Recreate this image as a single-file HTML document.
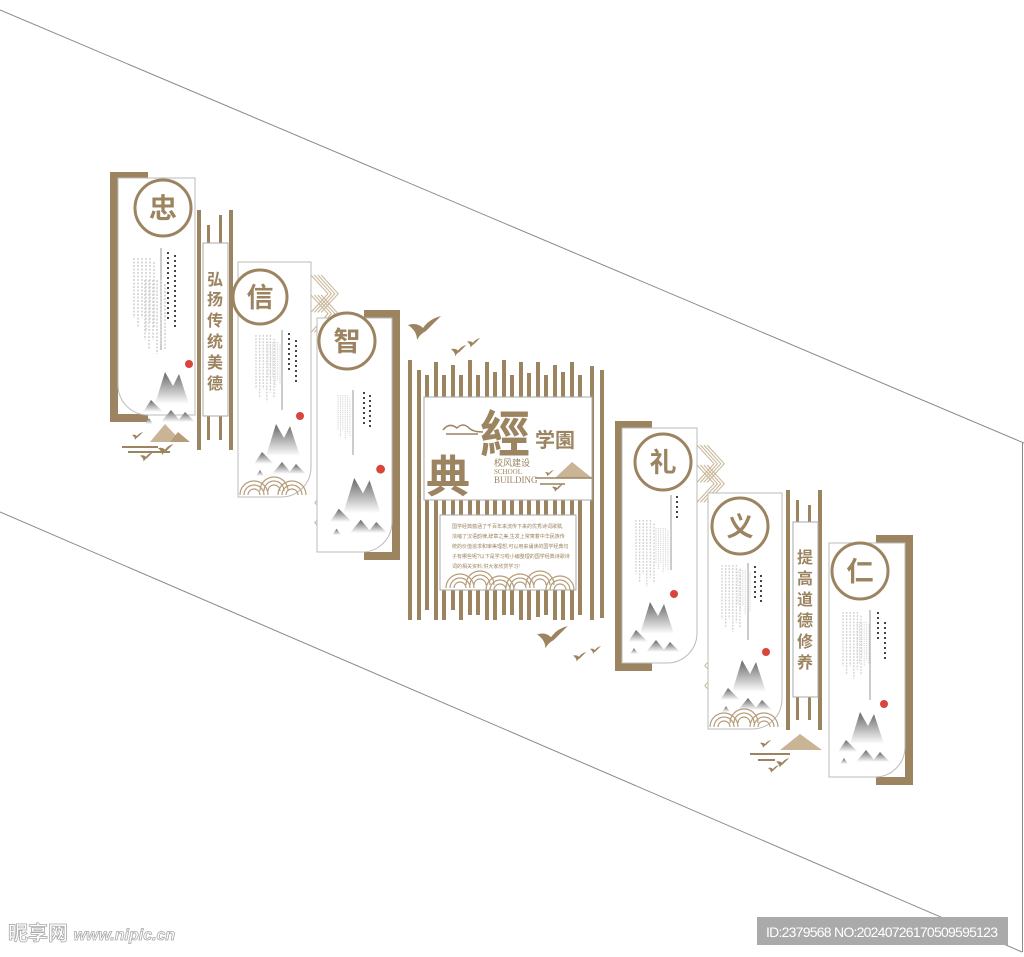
<!DOCTYPE html>
<html><head><meta charset="utf-8"><style>
html,body{margin:0;padding:0;background:#fff;width:1024px;height:957px;overflow:hidden}
svg{display:block}
.c{font-family:"Liberation Sans","Noto Sans CJK SC",sans-serif;font-weight:bold;fill:#9c8461}
</style></head><body>
<svg width="1024" height="957" viewBox="0 0 1024 957" xmlns="http://www.w3.org/2000/svg">
<defs>
<linearGradient id="g" x1="0" y1="0" x2="0" y2="1"><stop offset="0" stop-color="#666"/><stop offset="1" stop-color="#fff"/></linearGradient>
<g id="mt">
<polygon points="0,40 8,28 14,34 20,40" fill="url(#g)"/>
<polygon points="12,32 22,0 30,14 36,2 46,32" fill="url(#g)"/>
<polygon points="18,50 28,38 38,50" fill="url(#g)"/>
<polygon points="34,50 42,40 52,50" fill="url(#g)"/>
<polygon points="2,52 6,46 10,52" fill="url(#g)"/>
<circle cx="46" cy="-8" r="4" fill="#d9453a"/>
</g>
<g id="txt" stroke="#d0d0d0" stroke-width="1.5" stroke-dasharray="2 1.5">
<line x1="0" y1="0" x2="0" y2="60"/><line x1="4" y1="0" x2="4" y2="70"/><line x1="8" y1="0" x2="8" y2="60"/><line x1="12" y1="0" x2="12" y2="74"/><line x1="16" y1="0" x2="16" y2="64"/><line x1="20" y1="4" x2="20" y2="70"/>
</g>
<g id="arc" fill="none" stroke="#b59d7a" stroke-width="1.2">
<path d="M0,18 a14,14 0 0 1 28,0 M4,18 a10,10 0 0 1 20,0 M8,18 a6,6 0 0 1 12,0"/>
</g>
<g id="chev" fill="none" stroke="#c9b596" stroke-width="1.2">
<path d="M0,0 L20,22 L0,44 M4,0 L24,22 L4,44 M8,0 L28,22 L8,44 M12,0 L32,22 L12,44"/>
</g>
<g id="bird" fill="#9c8461"><path d="M0,6 Q6,4 10,8 Q14,2 22,0 Q16,6 12,10 Q8,12 6,16 Q6,10 0,6Z"/></g>
</defs>

<g stroke="#8a8a8a" stroke-width="1" fill="none">
<line x1="0" y1="10" x2="1024" y2="443"/>
<line x1="0" y1="512" x2="1022" y2="952"/>
<line x1="1022.5" y1="443" x2="1022.5" y2="952"/>
</g>

<!-- 忠 panel -->
<path d="M110,172 H148 V178 H118 V414 H148 V422 H110Z" fill="#9c8461"/>
<path d="M118,178 H195 V415 H148 A30,30 0 0 1 118,385Z" fill="#fff" stroke="#bbb"/>
<circle cx="163" cy="208" r="28" fill="#fff" stroke="#9c8461" stroke-width="3"/>
<text x="163" y="218" class="c" font-size="28" text-anchor="middle">忠</text>
<line x1="161" y1="248" x2="161" y2="350" stroke="#999"/>
<use href="#txt" transform="translate(134,258)"/><use href="#txt" transform="translate(145,280)"/>
<g stroke="#444" stroke-width="2" stroke-dasharray="2 3"><line x1="168" y1="252" x2="168" y2="320"/><line x1="175" y1="255" x2="175" y2="330"/></g>
<use href="#mt" transform="translate(143,372)"/>
<!-- 弘扬 pillar -->
<g fill="#9c8461"><rect x="197" y="210" width="4" height="240"/><rect x="229" y="210" width="4" height="240"/><rect x="207" y="225" width="3" height="215"/><rect x="219" y="215" width="3" height="225"/></g>
<rect x="203" y="243" width="25" height="173" fill="#fff" stroke="#aaa"/>
<text class="c" font-size="16" text-anchor="middle" font-weight="normal"><tspan x="215" y="285">弘</tspan><tspan x="215" y="305">扬</tspan><tspan x="215" y="326">传</tspan><tspan x="215" y="347">统</tspan><tspan x="215" y="368">美</tspan><tspan x="215" y="389">德</tspan></text>
<g fill="#c9b596"><polygon points="150,442 165,424 182,442"/><polygon points="170,442 178,432 190,442" fill="#b59d7a"/></g>
<path d="M122,447 H158 M128,452 H170" stroke="#9c8461" stroke-width="2"/>
<use href="#bird" transform="translate(140,452) scale(.6)"/><use href="#bird" transform="translate(158,444) scale(.7)"/><use href="#bird" transform="translate(132,432) scale(.5)"/>

<!-- 信 panel -->
<use href="#chev" transform="translate(311,275) scale(.85)"/><use href="#chev" transform="translate(311,295) scale(.85)"/>
<use href="#chev" transform="translate(318,485) scale(-.8,.8) translate(-28,0)"/><use href="#chev" transform="translate(318,505) scale(-.8,.8) translate(-28,0)"/>
<path d="M238,262 H311 V467 A30,30 0 0 1 281,497 H238Z" fill="#fff" stroke="#bbb"/>
<circle cx="260" cy="297" r="27" fill="#fff" stroke="#9c8461" stroke-width="3"/>
<text x="260" y="307" class="c" font-size="27" text-anchor="middle">信</text>
<line x1="282" y1="330" x2="282" y2="410" stroke="#999"/>
<use href="#txt" transform="translate(256,335) scale(.9)"/><use href="#txt" transform="translate(268,342) scale(.6)"/>
<g stroke="#444" stroke-width="2" stroke-dasharray="2 3"><line x1="289" y1="333" x2="289" y2="372"/><line x1="296" y1="340" x2="296" y2="385"/></g>
<use href="#mt" transform="translate(254,424)"/>
<use href="#arc" transform="translate(240,477)"/><use href="#arc" transform="translate(260,473)"/><use href="#arc" transform="translate(278,477)"/>

<!-- 智 panel -->
<path d="M364,310 H400 V560 H364 V552 H392 V318 H364Z" fill="#9c8461"/>
<path d="M317,318 H392 V522 A30,30 0 0 1 362,552 H317Z" fill="#fff" stroke="#bbb"/>
<circle cx="347" cy="341" r="28" fill="#fff" stroke="#9c8461" stroke-width="3"/>
<text x="347" y="351" class="c" font-size="27" text-anchor="middle">智</text>
<line x1="353" y1="390" x2="353" y2="455" stroke="#999"/>
<use href="#txt" transform="translate(338,395) scale(.6)"/>
<g stroke="#444" stroke-width="2" stroke-dasharray="2 3"><line x1="364" y1="392" x2="364" y2="425"/><line x1="370" y1="395" x2="370" y2="428"/></g>
<use href="#mt" transform="translate(330,478) scale(1.1)"/>

<!-- center -->
<g fill="#9c8461">
<rect x="408" y="360" width="4" height="260"/><rect x="417" y="370" width="4" height="250"/>
<rect x="425" y="375" width="4" height="235"/><rect x="434" y="362" width="4" height="258"/><rect x="442" y="375" width="4" height="245"/><rect x="451" y="365" width="4" height="245"/><rect x="459" y="375" width="4" height="245"/><rect x="468" y="360" width="4" height="255"/><rect x="476" y="375" width="4" height="240"/><rect x="485" y="362" width="4" height="258"/><rect x="493" y="372" width="4" height="248"/><rect x="502" y="360" width="4" height="255"/><rect x="510" y="375" width="4" height="240"/><rect x="519" y="362" width="4" height="258"/><rect x="527" y="373" width="4" height="247"/><rect x="536" y="362" width="4" height="255"/><rect x="544" y="375" width="4" height="240"/><rect x="553" y="365" width="4" height="255"/><rect x="561" y="372" width="4" height="248"/><rect x="570" y="362" width="4" height="258"/><rect x="578" y="375" width="4" height="240"/><rect x="590" y="366" width="4" height="254"/><rect x="600" y="370" width="4" height="248"/>
</g>
<rect x="424" y="397" width="168" height="103" fill="#fff" stroke="#aaa"/>
<text x="480" y="452" class="c" font-size="50" font-family="Liberation Serif,Noto Serif CJK SC,serif">經</text>
<text x="426" y="492" class="c" font-size="44">典</text>
<text x="535" y="447" class="c" font-size="20" font-weight="normal">学園</text>
<text x="494" y="466" fill="#9c8461" font-size="9" font-family="Liberation Sans,Noto Sans CJK SC,sans-serif">校风建设</text>
<text x="494" y="474" fill="#9c8461" font-size="7" font-family="Liberation Serif,serif">SCHOOL</text>
<text x="494" y="483" fill="#9c8461" font-size="9" font-family="Liberation Serif,serif">BUILDING</text>
<path d="M443,430 q6,-8 14,-2 q6,-6 12,0 q4,4 14,4 M446,434 H478" stroke="#9c8461" fill="none" stroke-width="1.5"/>
<g fill="#c9b596"><polygon points="555,478 572,462 592,478"/></g>
<path d="M535,478 H592 M540,484 H565" stroke="#9c8461" stroke-width="1.5"/>
<use href="#bird" transform="translate(552,484) scale(.5)"/><use href="#bird" transform="translate(545,470) scale(.4)"/>
<rect x="440" y="515" width="136" height="75" fill="#fff" stroke="#aaa"/>
<g fill="#9c8461" font-size="5" font-family="Liberation Sans,Noto Sans CJK SC,sans-serif">
<text x="452" y="528">国学经典蕴涵了千百年来流传下来的优秀诗词歌赋,</text>
<text x="452" y="538">浓缩了汉语韵律,辞章之美,生发上常寓着中华民族传</text>
<text x="452" y="548">统的价值追求和审美理想,可以用来诵读的国学经典句</text>
<text x="452" y="558">子有哪些呢?以下是学习啦小编整理的国学经典诗歌诗</text>
<text x="452" y="568">词的相关资料,供大家欣赏学习!</text>
</g>
<use href="#arc" transform="translate(446,570)"/><use href="#arc" transform="translate(466,567)"/><use href="#arc" transform="translate(486,572)"/><use href="#arc" transform="translate(506,570)"/><use href="#arc" transform="translate(526,567)"/><use href="#arc" transform="translate(546,572)"/>
<use href="#bird" transform="translate(408,316) scale(1.5)"/>
<use href="#bird" transform="translate(451,345) scale(.7)"/><use href="#bird" transform="translate(467,338) scale(.6)"/>
<use href="#bird" transform="translate(537,626) scale(1.4)"/>
<use href="#bird" transform="translate(573,652) scale(.6)"/><use href="#bird" transform="translate(590,646) scale(.5)"/>

<!-- 礼 -->
<use href="#chev" transform="translate(697,445) scale(.85)"/><use href="#chev" transform="translate(697,465) scale(.85)"/>
<use href="#chev" transform="translate(708,648) scale(-.8,.8) translate(-28,0)"/><use href="#chev" transform="translate(708,668) scale(-.8,.8) translate(-28,0)"/>
<path d="M615,421 H652 V428 H622 V663 H652 V671 H615Z" fill="#9c8461"/>
<path d="M622,428 H697 V633 A30,30 0 0 1 667,663 H622Z" fill="#fff" stroke="#bbb"/>
<circle cx="663" cy="462" r="28" fill="#fff" stroke="#9c8461" stroke-width="3"/>
<text x="663" y="472" class="c" font-size="27" text-anchor="middle">礼</text>
<line x1="671" y1="495" x2="671" y2="570" stroke="#999"/>
<use href="#txt" transform="translate(636,520) scale(.9)"/><use href="#txt" transform="translate(656,528) scale(.6)"/>
<g stroke="#444" stroke-width="2" stroke-dasharray="2 3"><line x1="677" y1="496" x2="677" y2="520"/></g>
<use href="#mt" transform="translate(628,602)"/>

<!-- 义 -->
<path d="M708,493 H782 V699 A30,30 0 0 1 752,729 H708Z" fill="#fff" stroke="#bbb"/>
<circle cx="740" cy="526" r="28" fill="#fff" stroke="#9c8461" stroke-width="3"/>
<text x="740" y="536" class="c" font-size="27" text-anchor="middle">义</text>
<line x1="748" y1="563" x2="748" y2="640" stroke="#999"/>
<use href="#txt" transform="translate(722,565) scale(.9)"/><use href="#txt" transform="translate(738,570) scale(.6)"/>
<g stroke="#444" stroke-width="2" stroke-dasharray="2 3"><line x1="755" y1="566" x2="755" y2="600"/><line x1="761" y1="575" x2="761" y2="605"/></g>
<use href="#mt" transform="translate(720,660)"/>
<use href="#arc" transform="translate(710,709)"/><use href="#arc" transform="translate(730,705)"/><use href="#arc" transform="translate(750,709)"/>

<!-- 提高 pillar -->
<g fill="#9c8461"><rect x="786" y="490" width="4" height="240"/><rect x="818" y="490" width="4" height="240"/><rect x="796" y="500" width="3" height="220"/><rect x="808" y="505" width="3" height="215"/></g>
<rect x="793" y="522" width="25" height="175" fill="#fff" stroke="#aaa"/>
<text class="c" font-size="16" text-anchor="middle" font-weight="normal"><tspan x="805" y="563">提</tspan><tspan x="805" y="584">高</tspan><tspan x="805" y="605">道</tspan><tspan x="805" y="626">德</tspan><tspan x="805" y="647">修</tspan><tspan x="805" y="668">养</tspan></text>
<g fill="#c9b596"><polygon points="780,750 800,734 822,750"/></g>
<path d="M750,754 H790 M758,760 H775" stroke="#9c8461" stroke-width="2"/>
<use href="#bird" transform="translate(776,758) scale(.6)"/><use href="#bird" transform="translate(760,740) scale(.5)"/><use href="#bird" transform="translate(768,765) scale(.5)"/>

<!-- 仁 -->
<path d="M876,535 H913 V785 H876 V777 H905 V543 H876Z" fill="#9c8461"/>
<path d="M829,543 H905 V747 A30,30 0 0 1 875,777 H829Z" fill="#fff" stroke="#bbb"/>
<circle cx="860" cy="571" r="28" fill="#fff" stroke="#9c8461" stroke-width="3"/>
<text x="860" y="581" class="c" font-size="27" text-anchor="middle">仁</text>
<line x1="870" y1="610" x2="870" y2="700" stroke="#999"/>
<use href="#txt" transform="translate(843,612) scale(.9)"/><use href="#txt" transform="translate(857,622) scale(.6)"/>
<g stroke="#444" stroke-width="2" stroke-dasharray="2 3"><line x1="878" y1="612" x2="878" y2="640"/><line x1="885" y1="622" x2="885" y2="660"/></g>
<use href="#mt" transform="translate(838,712)"/>

<!-- watermark -->
<text x="8" y="940" font-size="20" font-weight="bold" fill="#fff" stroke="#aaa" stroke-width=".8" font-family="Liberation Sans,Noto Sans CJK SC,sans-serif">昵享网 <tspan font-size="16" font-style="italic">www.nipic.cn</tspan></text>
<rect x="757" y="917" width="251" height="28" fill="#aaa"/>
<text x="766" y="937" font-size="14" fill="#fff" font-family="Liberation Sans,sans-serif" textLength="232">ID:2379568 NO:20240726170509595123</text>
</svg>
</body></html>
